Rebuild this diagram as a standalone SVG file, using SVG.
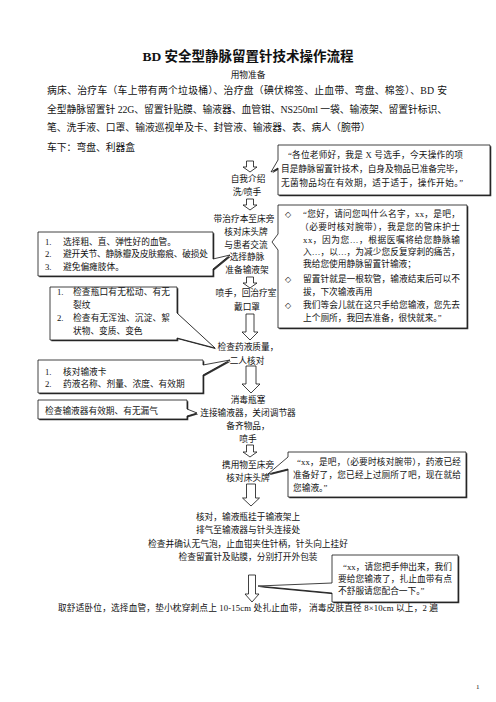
<svg xmlns="http://www.w3.org/2000/svg" xmlns:xlink="http://www.w3.org/1999/xlink" width="496" height="702" viewBox="0 0 496 702">
<style>
text{font-family:"Liberation Serif","Noto Sans CJK SC",serif;fill:#111;}
.t{font-size:8.7px;}
.m{font-size:9.8px;}
.c{text-anchor:middle;}
.d{font-family:"DejaVu Sans",sans-serif;font-size:8px;fill:#111;}
.title{font-size:13.5px;font-weight:bold;text-anchor:middle;}
.box{fill:#fff;stroke:#111;stroke-width:0.8;}
.sh{fill:#333;}
.arr{fill:#fff;stroke:#111;stroke-width:0.8;}
</style>
<defs>
<path id="p-c1" d="M278,145 H490 V195 H278 V168 L271,172 L278,160 Z"/>
<path id="p-c2" d="M278,205 H467 V328 H278 V250 L272,242 L278,234 Z"/>
<path id="p-l1" d="M38,232 H213 V259 L230,255 L213,269 V276 H38 Z"/>
<path id="p-l2" d="M50,287 H177 V313 L215,348 L177,338 V340 H50 Z"/>
<path id="p-l3" d="M38,360 H203 V365 L230,360 L203,375 V393 H38 Z"/>
<path id="p-l4" d="M38,400 H187 V409 L197,413 L187,416 V419 H38 Z"/>
<path id="p-c5" d="M288,452 H466 V497 H288 V469 L268,474 L288,457 Z"/>
<path id="p-c6" d="M332,555 H458 V602 H332 V593 L258,586 L332,583 Z"/>
</defs>

<g id="header">
<text class="title" x="248" y="61">BD 安全型静脉留置针技术操作流程</text>
<text class="t c" x="248" y="78">用物准备</text>
<text class="m" x="47" y="94" textLength="400">病床、治疗车（车上带有两个垃圾桶）、治疗盘（碘伏棉签、止血带、弯盘、棉签）、BD 安</text>
<text class="m" x="47" y="113" textLength="400">全型静脉留置针 22G、留置针贴膜、输液器、血管钳、NS250ml 一袋、输液架、留置针标识、</text>
<text class="m" x="47" y="131">笔、洗手液、口罩、输液巡视单及卡、封管液、输液器、表、病人（腕带）</text>
<text class="m" x="47" y="151">车下：弯盘、利器盒</text>
</g>

<g id="connectors">
<path class="arr" d="M246.5,161 H253.5 V167 H257 L250,172 L243,167 H246.5 Z"/>
<path class="arr" d="M246.5,199 H253.5 V205 H257 L250,210 L243,205 H246.5 Z"/>
<path class="arr" d="M246.5,277 H253.5 V283 H257 L250,288 L243,283 H246.5 Z"/>
<path class="arr" d="M246,314 H254 V332 H258 L250,340 L242,332 H246 Z"/>
<path class="arr" d="M246,366 H256 V384 H260 L251,393 L242,384 H246 Z"/>
<path class="arr" d="M246.5,445 H253.5 V452 H257 L250,457 L243,452 H246.5 Z"/>
<path class="arr" d="M246.5,484 H255.5 V498 H259.5 L251,506 L242.5,498 H246.5 Z"/>
<path class="arr" d="M248.5,575 H255.5 V594 H259 L252,602 L245,594 H248.5 Z"/>
</g>

<g id="step-intro">
<text class="t c" x="248" y="182">自我介绍</text>
<text class="t c" x="247" y="195">洗/喷手</text>
</g>
<g id="step-bedside">
<text class="t c" x="244" y="222">带治疗本至床旁</text>
<text class="t c" x="246" y="235">核对床头牌</text>
<text class="t c" x="246" y="248">与患者交流</text>
<text class="t c" x="247" y="260">选择静脉</text>
<text class="t c" x="247" y="273">准备输液架</text>
</g>
<g id="step-return">
<text class="t c" x="246" y="296">喷手，回治疗室</text>
<text class="t c" x="247" y="310">戴口罩</text>
</g>
<g id="step-check">
<text class="t c" x="248" y="350">检查药液质量，</text>
<text class="t c" x="247" y="364">二人核对</text>
</g>
<g id="step-connect">
<text class="t c" x="248" y="403">消毒瓶塞</text>
<text class="t c" x="248" y="416">连接输液器，关闭调节器</text>
<text class="t c" x="248" y="429">备齐物品，</text>
<text class="t c" x="248" y="442">喷手</text>
</g>
<g id="step-carry">
<text class="t c" x="248" y="468">携用物至床旁</text>
<text class="t c" x="248" y="481">核对床头牌</text>
</g>
<g id="step-hang">
<text class="t c" x="248" y="520">核对，输液瓶挂于输液架上</text>
<text class="t c" x="248" y="533">排气至输液器与针头连接处</text>
<text class="t c" x="248" y="547">检查并确认无气泡，止血钳夹住针柄，针头向上挂好</text>
<text class="t c" x="248" y="560">检查留置针及贴膜，分别打开外包装</text>
</g>
<g id="step-position">
<text class="t" x="58" y="611" textLength="380">取舒适卧位，选择血管，垫小枕穿刺点上 10-15cm 处扎止血带，  消毒皮肤直径 8×10cm 以上，2 遍</text>
</g>

<g id="callout-greeting">
<use href="#p-c1" class="sh" transform="translate(1.3,1.3)"/>
<use href="#p-c1" class="box"/>
<text class="t" x="288" y="158" textLength="175">“各位老师好，我是 X 号选手，今天操作的项</text>
<text class="t" x="281" y="172" textLength="182">目是静脉留置针技术，自身及物品已准备完毕，</text>
<text class="t" x="281" y="186" textLength="182">无菌物品均在有效期，适于适于，操作开始。”</text>
</g>

<g id="callout-patient">
<use href="#p-c2" class="sh" transform="translate(1.3,1.3)"/>
<use href="#p-c2" class="box"/>
<text class="d" x="285" y="217">◇</text>
<text class="t" x="303" y="217" textLength="157">“您好，请问您叫什么名字，xx，是吧，</text>
<text class="t" x="300" y="230" textLength="160">（必要时核对腕带），我是您的管床护士</text>
<text class="t" x="303" y="243" textLength="157">xx，因为您…，根据医嘱将给您静脉输</text>
<text class="t" x="303" y="255" textLength="157">入…，以…，为减少您反复穿刺的痛苦，</text>
<text class="t" x="303" y="267">我给您使用静脉留置针输液；</text>
<text class="d" x="285" y="282">◇</text>
<text class="t" x="303" y="282" textLength="157">留置针就是一根软管，输液结束后可以不</text>
<text class="t" x="303" y="295">拔，下次输液再用</text>
<text class="d" x="285" y="308">◇</text>
<text class="t" x="303" y="308" textLength="157">我们等会儿就在这只手给您输液，您先去</text>
<text class="t" x="303" y="321">上个厕所，我回去准备，很快就来。”</text>
</g>

<g id="note-vein">
<use href="#p-l1" class="sh" transform="translate(1.3,1.3)"/>
<use href="#p-l1" class="box"/>
<text class="t" x="45" y="245">1.</text>
<text class="t" x="63" y="245">选择粗、直、弹性好的血管。</text>
<text class="t" x="45" y="257">2.</text>
<text class="t" x="63" y="257" textLength="145">避开关节、静脉瓣及皮肤瘢痕、破损处</text>
<text class="t" x="45" y="270">3.</text>
<text class="t" x="63" y="270">避免偏瘫肢体。</text>
</g>

<g id="note-bottle">
<use href="#p-l2" class="sh" transform="translate(1.3,1.3)"/>
<use href="#p-l2" class="box"/>
<text class="t" x="57" y="295">1.</text>
<text class="t" x="73" y="295" textLength="97">检查瓶口有无松动、有无</text>
<text class="t" x="73" y="308">裂纹</text>
<text class="t" x="57" y="321">2.</text>
<text class="t" x="73" y="321" textLength="97">检查有无浑浊、沉淀、絮</text>
<text class="t" x="73" y="334">状物、变质、变色</text>
</g>

<g id="note-card">
<use href="#p-l3" class="sh" transform="translate(1.3,1.3)"/>
<use href="#p-l3" class="box"/>
<text class="t" x="45" y="375">1.</text>
<text class="t" x="63" y="375">核对输液卡</text>
<text class="t" x="45" y="387">2.</text>
<text class="t" x="63" y="387">药液名称、剂量、浓度、有效期</text>
</g>

<g id="note-set">
<use href="#p-l4" class="sh" transform="translate(1.3,1.3)"/>
<use href="#p-l4" class="box"/>
<text class="t" x="45" y="414">检查输液器有效期、有无漏气</text>
</g>

<g id="callout-ready">
<use href="#p-c5" class="sh" transform="translate(1.3,1.3)"/>
<use href="#p-c5" class="box"/>
<text class="t" x="297" y="465" textLength="164">“xx，是吧，（必要时核对腕带），药液已经</text>
<text class="t" x="293" y="478" textLength="168">准备好了，您已经上过厕所了吧，现在就给</text>
<text class="t" x="293" y="491">您输液。”</text>
</g>

<g id="callout-hand">
<use href="#p-c6" class="sh" transform="translate(1.3,1.3)"/>
<use href="#p-c6" class="box"/>
<text class="t" x="343" y="570" textLength="109">“xx，请您把手伸出来，我们</text>
<text class="t" x="338" y="582" textLength="114">要给您输液了，扎止血带有点</text>
<text class="t" x="338" y="594">不舒服请您配合一下。”</text>
</g>

<g id="page-number">
<text x="476" y="689" style="font-size:7px">1</text>
</g>
</svg>
